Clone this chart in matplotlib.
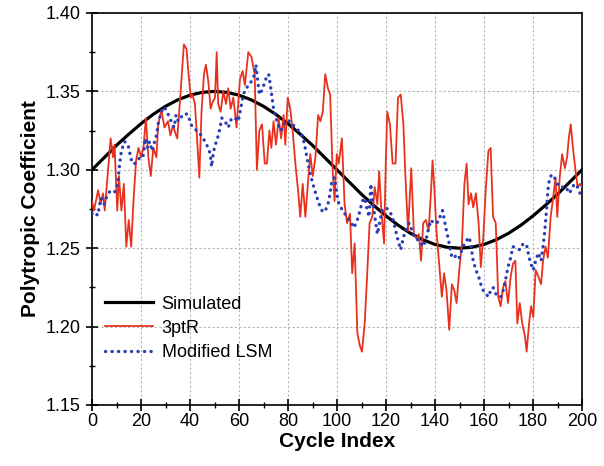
import matplotlib
matplotlib.use('Agg')
import matplotlib.pyplot as plt
from matplotlib.ticker import MultipleLocator, FormatStrFormatter

plt.rcParams['font.family'] = ['Liberation Sans', 'DejaVu Sans']

# Curva simulada (leída cada 5 ciclos)
sim_x = [0, 5, 10, 15, 20, 25, 30, 35, 40, 45, 50, 55, 60, 65, 70, 75, 80, 85, 90, 95, 100,
         105, 110, 115, 120, 125, 130, 135, 140, 145, 150, 155, 160, 165, 170, 175, 180, 185, 190, 195, 200]
sim_y = [1.300, 1.3078, 1.3156, 1.3227, 1.3294, 1.3354, 1.3405, 1.3446, 1.3476, 1.3494, 1.3500,
         1.3494, 1.3476, 1.3446, 1.3405, 1.3354, 1.3294, 1.3227, 1.3156, 1.3078, 1.300,
         1.2922, 1.2844, 1.2773, 1.2706, 1.2646, 1.2595, 1.2554, 1.2524, 1.2506, 1.2500,
         1.2506, 1.2524, 1.2554, 1.2595, 1.2646, 1.2706, 1.2773, 1.2844, 1.2922, 1.300]

# 3ptR
r3_x = [0, 0.8, 2.5, 3.5, 4.5, 5.2, 6.5, 7.6, 8.6, 9.2, 10.3, 11, 12, 13, 14, 15, 16, 17, 18, 19,
        20, 21, 22, 23, 24, 25, 26.3, 27, 28.3, 29.6, 31, 32, 33, 34.8, 36, 37.5, 38.6, 39.3, 40.3, 41,
        42, 42.7, 43.8, 44.7, 45.7, 46.5, 47.5, 48.4, 49.2, 50.2, 50.9, 51.5, 52.5, 53.6, 54.7, 55.6,
        56.6, 57.7, 59, 60.4, 61.5, 62.4, 63.8, 65.1, 66.4, 67.3, 68.3, 69.4, 70.5, 71.4, 72.4, 73.2,
        74.1, 75.1, 76.2, 77.2, 78.2, 78.9, 79.9, 80.9, 81.9, 83, 84.1, 85, 86, 87.1, 88.2, 89.1, 90.1,
        91.2, 92.3, 93.2, 94.2, 95.2, 96.3, 97.2, 98.2, 99, 99.9, 100.7, 102, 103.1, 104.1, 105.3,
        106.2, 107.2, 108.3, 109.3, 110.2, 111.3, 112.4, 113.3, 114.4, 115.4, 116.5, 117.2, 118.1,
        119.2, 119.9, 120.5, 121.6, 122.7, 123.9, 124.9, 126, 127.1, 128, 129, 130.3, 131.4, 132.5,
        133.4, 134.3, 135.2, 136.3, 137.4, 138.4, 139, 139.7, 140.6, 141.7, 142.8, 143.7, 144.7, 145.8,
        146.9, 147.9, 148.8, 149.9, 151, 152, 152.9, 153.7, 154.7, 155.6, 156.7, 157.8, 158.7, 159.7,
        160.7, 161.8, 162.7, 163.7, 164.8, 165.8, 166.8, 167.8, 168.7, 169.8, 170.9, 171.8, 172.8,
        173.6, 174.6, 175.6, 176.7, 177.4, 178.4, 179.2, 180.1, 181.1, 182.2, 183.3, 184.1, 185.1,
        186.1, 187.2, 188.2, 189.2, 189.9, 190.9, 191.9, 193, 193.9, 194.6, 195.4, 196.3, 197.4, 198.2,
        199.2, 200]
r3_y = [1.280, 1.274, 1.287, 1.278, 1.285, 1.274, 1.299, 1.320, 1.308, 1.316, 1.274, 1.296, 1.274,
        1.291, 1.251, 1.268, 1.251, 1.282, 1.306, 1.314, 1.308, 1.314, 1.333, 1.308, 1.296, 1.314,
        1.308, 1.329, 1.338, 1.327, 1.331, 1.322, 1.328, 1.320, 1.346, 1.380, 1.377, 1.363, 1.346,
        1.348, 1.342, 1.325, 1.295, 1.337, 1.361, 1.367, 1.356, 1.339, 1.343, 1.346, 1.375, 1.342,
        1.337, 1.350, 1.342, 1.352, 1.339, 1.346, 1.327, 1.358, 1.363, 1.354, 1.375, 1.372, 1.361,
        1.300, 1.325, 1.329, 1.304, 1.304, 1.325, 1.314, 1.331, 1.316, 1.333, 1.320, 1.335, 1.316,
        1.346, 1.339, 1.325, 1.304, 1.287, 1.270, 1.291, 1.270, 1.293, 1.310, 1.296, 1.308, 1.335,
        1.331, 1.337, 1.361, 1.352, 1.348, 1.300, 1.280, 1.310, 1.304, 1.320, 1.278, 1.266, 1.272,
        1.234, 1.253, 1.196, 1.188, 1.184, 1.202, 1.236, 1.266, 1.270, 1.289, 1.278, 1.299, 1.274,
        1.253, 1.304, 1.337, 1.329, 1.304, 1.304, 1.346, 1.348, 1.329, 1.293, 1.261, 1.301, 1.259,
        1.256, 1.259, 1.242, 1.266, 1.268, 1.261, 1.287, 1.306, 1.289, 1.261, 1.240, 1.219, 1.234,
        1.223, 1.198, 1.227, 1.223, 1.215, 1.236, 1.253, 1.291, 1.304, 1.278, 1.285, 1.276, 1.285,
        1.266, 1.238, 1.257, 1.287, 1.312, 1.314, 1.270, 1.266, 1.219, 1.213, 1.225, 1.229, 1.215,
        1.232, 1.240, 1.242, 1.202, 1.215, 1.202, 1.194, 1.184, 1.202, 1.213, 1.206, 1.236, 1.232,
        1.227, 1.242, 1.251, 1.244, 1.270, 1.282, 1.295, 1.270, 1.295, 1.310, 1.301, 1.308, 1.320,
        1.329, 1.314, 1.299, 1.289, 1.291, 1.289]

# Modified LSM
lsm_x = [0, 0.4, 2.4, 3.1, 3.8, 4.9, 5.8, 7.2, 8.6, 9.9, 10.6, 11.3, 12, 13.3, 14.7, 15.8, 16.5,
         17.4, 18.8, 19.5, 20.8, 21.8, 22.6, 23.5, 24.5, 25.6, 26.3, 27.2, 28.3, 29.4, 30.7, 31.7,
         33.5, 34.3, 35.2, 36.6, 38, 39.3, 40.3, 41.4, 42.7, 44.1, 45.4, 46.8, 47.9, 48.4, 48.8, 49.5,
         50.2, 50.9, 52, 53, 54.3, 55.6, 57, 58.4, 59.7, 60.7, 61.8, 62.8, 64.2, 65.6, 66.4, 66.9,
         67.7, 68.3, 69.1, 70.1, 71, 72.1, 72.8, 73.5, 74.1, 75.1, 75.9, 76.9, 77.9, 78.9, 79.9, 80.9,
         81.9, 83, 84.3, 85.7, 86.8, 87.7, 88.7, 89.8, 90.9, 91.9, 93.2, 94.2, 95.2, 96.3, 97.2, 97.9,
         99, 100.4, 101.5, 102.9, 104.2, 105.6, 106.9, 108.3, 109.4, 110.3, 111.3, 112.1, 113.1, 113.8,
         114.4, 115.1, 115.8, 116.5, 117.6, 118.5, 119.9, 121.3, 122.6, 124, 124.9, 126, 127.1, 128,
         129.4, 130.7, 132.1, 133.6, 135, 136.3, 137.4, 138.4, 139.3, 140.4, 141.5, 142.4, 143.1, 143.8,
         144.7, 145.8, 146.9, 147.9, 148.8, 149.9, 151, 152, 152.9, 154, 154.7, 155.6, 156.7, 157.8,
         158.7, 159.7, 160.7, 161.8, 162.7, 163.7, 164.8, 165.8, 166.8, 167.8, 168.7, 169.8, 170.9,
         171.8, 173.2, 174.6, 176, 177.4, 178.4, 179.2, 180.1, 181.1, 182.2, 183.3, 184.1, 184.8, 185.5,
         186.1, 186.8, 187.8, 188.8, 189.9, 190.9, 192.3, 193.6, 194.6, 195.7, 196.8, 198.2, 199.2, 200]
lsm_y = [1.272, 1.273, 1.271, 1.278, 1.282, 1.278, 1.282, 1.286, 1.285, 1.287, 1.293, 1.304, 1.312,
         1.318, 1.316, 1.308, 1.304, 1.304, 1.306, 1.308, 1.308, 1.320, 1.314, 1.318, 1.312, 1.318,
         1.322, 1.331, 1.337, 1.340, 1.337, 1.333, 1.327, 1.335, 1.331, 1.334, 1.336, 1.335, 1.329,
         1.327, 1.325, 1.323, 1.320, 1.316, 1.312, 1.308, 1.302, 1.310, 1.316, 1.318, 1.325, 1.333,
         1.331, 1.327, 1.333, 1.333, 1.331, 1.339, 1.348, 1.352, 1.354, 1.358, 1.361, 1.367, 1.356,
         1.348, 1.350, 1.354, 1.358, 1.361, 1.354, 1.346, 1.339, 1.333, 1.329, 1.325, 1.327, 1.331,
         1.331, 1.331, 1.329, 1.327, 1.325, 1.322, 1.316, 1.308, 1.300, 1.293, 1.287, 1.282, 1.276,
         1.273, 1.274, 1.278, 1.285, 1.293, 1.295, 1.280, 1.276, 1.273, 1.269, 1.267, 1.263, 1.268,
         1.274, 1.280, 1.282, 1.276, 1.270, 1.291, 1.282, 1.274, 1.266, 1.259, 1.268, 1.274, 1.276,
         1.274, 1.270, 1.261, 1.255, 1.249, 1.257, 1.261, 1.266, 1.261, 1.256, 1.255, 1.251, 1.255,
         1.263, 1.268, 1.266, 1.266, 1.267, 1.272, 1.274, 1.268, 1.261, 1.253, 1.244, 1.244, 1.246,
         1.244, 1.249, 1.253, 1.255, 1.257, 1.251, 1.242, 1.236, 1.232, 1.227, 1.223, 1.221, 1.219,
         1.223, 1.225, 1.221, 1.219, 1.219, 1.223, 1.229, 1.238, 1.244, 1.251, 1.250, 1.249, 1.253,
         1.252, 1.244, 1.240, 1.236, 1.242, 1.247, 1.242, 1.251, 1.261, 1.274, 1.287, 1.295, 1.297,
         1.295, 1.291, 1.289, 1.289, 1.289, 1.285, 1.287, 1.291, 1.289, 1.285, 1.284]

fig = plt.figure(figsize=(6.04, 4.66), dpi=100)
ax = fig.add_axes([92 / 604, 1 - 405 / 466, 490 / 604, 392 / 466])

ax.plot(sim_x, sim_y, color='black', lw=2.3, label='Simulated', zorder=3)
ax.plot(r3_x, r3_y, color='#e8321e', lw=1.3, label='3ptR', zorder=4)
ax.plot(lsm_x, lsm_y, color='#2a3db5', lw=2.4, linestyle=(0, (0.05, 1.9)),
        dash_capstyle='round', label='Modified LSM', zorder=5)

ax.set_xlim(0, 200)
ax.set_ylim(1.15, 1.40)
ax.xaxis.set_major_locator(MultipleLocator(20))
ax.xaxis.set_minor_locator(MultipleLocator(10))
ax.yaxis.set_major_locator(MultipleLocator(0.05))
ax.yaxis.set_minor_locator(MultipleLocator(0.025))
ax.yaxis.set_major_formatter(FormatStrFormatter('%.2f'))

ax.grid(True, which='major', color='#b4b4b4', linestyle=(0, (2, 2)), lw=0.8)
ax.set_axisbelow(True)

for s in ax.spines.values():
    s.set_linewidth(1.2)

ax.tick_params(which='major', direction='inout', length=8, width=1.2, labelsize=13)
ax.tick_params(which='minor', direction='inout', length=5, width=1.0)
ax.tick_params(axis='y', pad=4)
ax.tick_params(axis='x', pad=2)

ax.set_xlabel('Cycle Index', fontsize=15, fontweight='bold', labelpad=1)
ax.set_ylabel('Polytropic Coefficient', fontsize=15, fontweight='bold', labelpad=4)

ax.legend(loc='lower left', bbox_to_anchor=(0.0, 0.08), frameon=False, fontsize=13,
          handlelength=2.7, handletextpad=0.45, labelspacing=0.4, borderaxespad=0.3)

fig.savefig('out.png', dpi=100)
